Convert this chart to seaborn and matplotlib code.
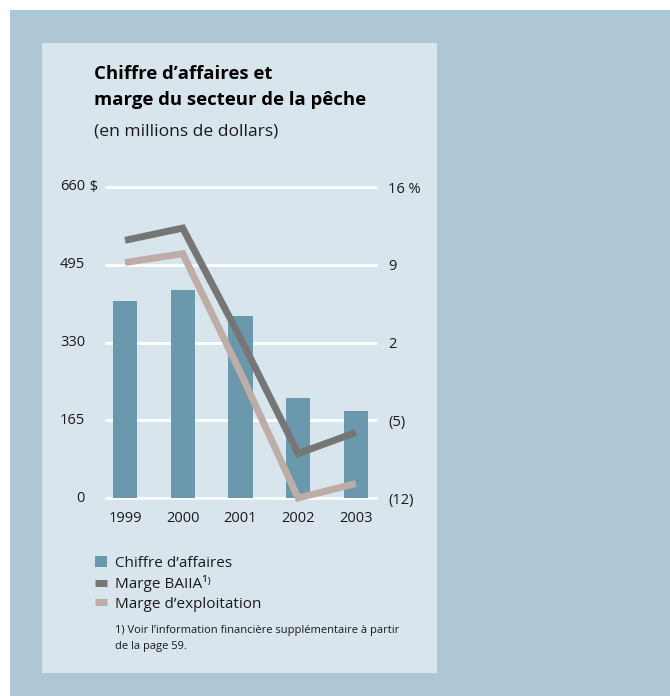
import numpy as np
import pandas as pd
import matplotlib
matplotlib.use("Agg")
import matplotlib.pyplot as plt
import matplotlib.transforms as mtrans
from matplotlib.patches import Rectangle, Patch
from matplotlib.lines import Line2D
import seaborn as sns

# ---- data ----
years = ["1999", "2000", "2001", "2002", "2003"]
revenue = [418, 441, 386, 212, 185]          # millions $
ebitda_margin = [11.2, 12.3, 2.4, -8.0, -6.1]   # %
operating_margin = [9.2, 10.0, -0.7, -12.0, -10.7]  # %
left_ticks = [0, 165, 330, 495, 660]
left_labels = ["0", "165", "330", "495", "660"]
right_ticks = [-12, -5, 2, 9, 16]
right_labels = ["(12)", "(5)", "2", "9", "16 %"]

sns.set_theme(style="white")
FAM = ["Open Sans", "DejaVu Sans"]
plt.rcParams["font.family"] = FAM

OUTER = "#aec7d4"
PANEL = "#d9e5ec"
BAR = "#6a98ac"
DARK = "#767676"
LIGHT = "#bdada6"
TXT = "#1a1a1a"

W, H = 670, 696
fig = plt.figure(figsize=(W / 100, H / 100), dpi=100)
fig.patch.set_facecolor("white")

def fx(px):
    return px / W

def fy(py):
    return 1 - py / H

fig.patches.append(Rectangle((fx(10), 0), fx(660), 686 / H,
                             transform=fig.transFigure, facecolor=OUTER,
                             edgecolor="none", zorder=-10))
fig.patches.append(Rectangle((fx(42), fy(673)), fx(395), 630 / H,
                             transform=fig.transFigure, facecolor=PANEL,
                             edgecolor="none", zorder=-9))

ax = fig.add_axes([fx(106), fy(498), fx(270), (498 - 187) / H])
ax.set_facecolor("none")
df = pd.DataFrame({"year": years, "revenue": revenue})
sns.barplot(data=df, x="year", y="revenue", color=BAR, saturation=1,
            width=0.42, ax=ax, zorder=3, linewidth=0, edgecolor="none")
ax.set_xlim(-0.33, 4.35)
ax.set_ylim(0, 660)
for t in left_ticks:
    ax.axhline(t, color="white", lw=2, zorder=1, clip_on=False)
ax.set_yticks([])
ax.set_xlabel("")
ax.set_ylabel("")
ax.tick_params(axis="x", length=0, pad=9, labelsize=10.5, labelcolor=TXT)
for s in ax.spines.values():
    s.set_visible(False)

# left labels (numbers right-aligned, $ sign hanging)
lt = mtrans.blended_transform_factory(fig.transFigure, ax.transData)
for v, lab in zip(left_ticks, left_labels):
    ax.text(fx(85), v, lab, transform=lt, ha="right", va="center",
            fontsize=10.5, color=TXT)
    if v == 660:
        ax.text(fx(86), v, " $", transform=lt, ha="left", va="center",
                fontsize=10.5, color=TXT)

ax2 = ax.twinx()
ax2.set_ylim(-12, 16)
xpos = np.arange(len(years))
sns.lineplot(x=xpos, y=ebitda_margin, ax=ax2, color=DARK, lw=5,
             zorder=5, clip_on=False)
sns.lineplot(x=xpos, y=operating_margin, ax=ax2, color=LIGHT, lw=5,
             zorder=4, clip_on=False)
for ln in ax2.lines:
    ln.set_solid_joinstyle("miter")
    ln.set_solid_capstyle("butt")
ax2.set_yticks(right_ticks)
ax2.set_yticklabels(right_labels)
ax2.tick_params(axis="y", length=0, pad=9, labelsize=10.5, labelcolor=TXT)
for s in ax2.spines.values():
    s.set_visible(False)
ax2.set_xlim(-0.33, 4.35)

# titles
fig.text(fx(94), fy(79), "Chiffre d’affaires et", fontsize=13.3,
         fontweight="bold", color="black", va="baseline", ha="left")
fig.text(fx(94), fy(105), "marge du secteur de la pêche", fontsize=13.3,
         fontweight="bold", color="black", va="baseline", ha="left")
fig.text(fx(94), fy(135), "(en millions de dollars)", fontsize=12.6,
         color=TXT, va="baseline", ha="left")

# legend
handles = [
    Patch(facecolor=BAR, edgecolor="none"),
    Line2D([0], [0], color=DARK, lw=5, solid_capstyle="butt"),
    Line2D([0], [0], color=LIGHT, lw=5, solid_capstyle="butt"),
]
labels = ["Chiffre d’affaires", "Marge BAIIA¹⁾", "Marge d’exploitation"]
leg = fig.legend(handles, labels, loc="upper left",
                 bbox_to_anchor=(fx(95), fy(556)), frameon=False,
                 fontsize=11, handlelength=0.78, handleheight=0.78,
                 handletextpad=0.52, labelspacing=0.28, borderaxespad=0,
                 borderpad=0)
for t in leg.get_texts():
    t.set_color(TXT)
    t.set_family(FAM)

fig.text(fx(115), fy(633), "1) Voir l’information financière supplémentaire à partir",
         fontsize=8, color=TXT, va="baseline", ha="left")
fig.text(fx(115), fy(649), "de la page 59.", fontsize=8, color=TXT,
         va="baseline", ha="left")

fig.savefig("out.png", dpi=100, facecolor="white")
